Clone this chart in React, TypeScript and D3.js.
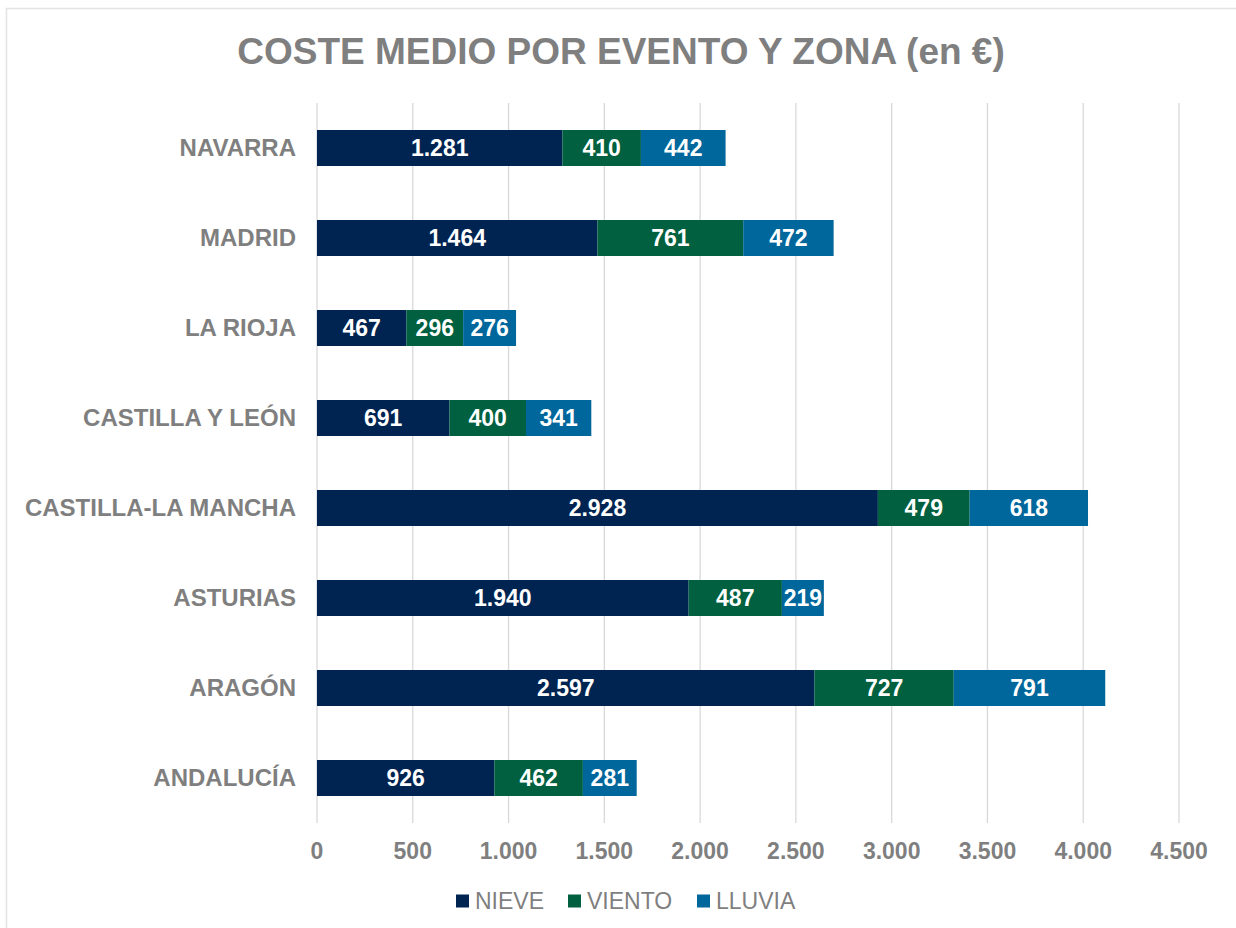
import { useEffect, useRef } from 'react';
import * as d3 from 'd3';

const zonas = ['NAVARRA', 'MADRID', 'LA RIOJA', 'CASTILLA Y LEÓN', 'CASTILLA-LA MANCHA', 'ASTURIAS', 'ARAGÓN', 'ANDALUCÍA'];
const nieve = [1281, 1464, 467, 691, 2928, 1940, 2597, 926];
const viento = [410, 761, 296, 400, 479, 487, 727, 462];
const lluvia = [442, 472, 276, 341, 618, 219, 791, 281];
const series = ['NIEVE', 'VIENTO', 'LLUVIA'];
const colores = ['#002452', '#00603F', '#00679C'];
const ticks = [0, 500, 1000, 1500, 2000, 2500, 3000, 3500, 4000, 4500];

const W = 1236;
const H = 928;
const FONT = '"Liberation Sans", Arial, sans-serif';
const GRAY = '#7f7f7f';

const fmt = (v: number) => d3.format(',')(v).replace(/,/g, '.');

const App = () => {
  const svgRef = useRef<SVGSVGElement>(null);

  useEffect(() => {
    if (!svgRef.current) return;
    const svg = d3.select(svgRef.current);
    svg.selectAll('*').remove();

    // chart frame
    svg.append('rect')
      .attr('x', 6.5).attr('y', 8.5)
      .attr('width', W).attr('height', H)
      .attr('fill', '#fff')
      .attr('stroke', '#e3e3e3')
      .attr('stroke-width', 1.5);

    const x = d3.scaleLinear().domain([0, 4500]).range([317, 1179]);
    const y = d3.scaleBand().domain(zonas).range([103, 823])
      .paddingInner(0.6)
      .paddingOuter(0.3);

    // Title
    svg.append('text')
      .attr('x', 621).attr('y', 64)
      .attr('text-anchor', 'middle')
      .style('font-family', FONT)
      .style('font-size', '37px')
      .style('font-weight', 'bold')
      .style('fill', GRAY)
      .text('COSTE MEDIO POR EVENTO Y ZONA (en €)');

    // Grid
    svg.append('g')
      .selectAll('line')
      .data(ticks)
      .join('line')
      .attr('x1', d => x(d)).attr('x2', d => x(d))
      .attr('y1', 103).attr('y2', 823)
      .attr('stroke', '#d9d9d9')
      .attr('stroke-width', 1.3);

    // X tick labels
    svg.append('g')
      .selectAll('text')
      .data(ticks)
      .join('text')
      .attr('x', d => x(d)).attr('y', 859)
      .attr('text-anchor', 'middle')
      .style('font-family', FONT)
      .style('font-size', '23px')
      .style('font-weight', 'bold')
      .style('fill', GRAY)
      .text(d => fmt(d));

    // Category labels
    svg.append('g')
      .selectAll('text')
      .data(zonas)
      .join('text')
      .attr('x', 296)
      .attr('y', d => (y(d) || 0) + y.bandwidth() / 2)
      .attr('dy', '0.35em')
      .attr('text-anchor', 'end')
      .style('font-family', FONT)
      .style('font-size', '24px')
      .style('font-weight', 'bold')
      .style('fill', GRAY)
      .text(d => d);

    // Stacked bars
    const rows = zonas.map((z, i) => ({ zona: z, NIEVE: nieve[i], VIENTO: viento[i], LLUVIA: lluvia[i] }));
    const stack = d3.stack<any>().keys(series)(rows);

    const layers = svg.append('g')
      .selectAll('g')
      .data(stack)
      .join('g')
      .attr('fill', (_d, i) => colores[i]);

    layers.selectAll('rect')
      .data(d => d)
      .join('rect')
      .attr('x', d => x(d[0]))
      .attr('y', d => y(d.data.zona) || 0)
      .attr('width', d => x(d[1]) - x(d[0]))
      .attr('height', y.bandwidth());

    layers.selectAll('text')
      .data(d => d)
      .join('text')
      .attr('x', d => (x(d[0]) + x(d[1])) / 2)
      .attr('y', d => (y(d.data.zona) || 0) + y.bandwidth() / 2)
      .attr('dy', '0.35em')
      .attr('text-anchor', 'middle')
      .style('font-family', FONT)
      .style('font-size', '23px')
      .style('font-weight', 'bold')
      .style('fill', '#fff')
      .text(d => fmt(d[1] - d[0]));

    // Legend
    const legendX = [456, 568, 697];
    const lg = svg.append('g')
      .selectAll('g')
      .data(series)
      .join('g')
      .attr('transform', (_d, i) => `translate(${legendX[i]},901)`);
    lg.append('rect')
      .attr('x', 0).attr('y', -6.5)
      .attr('width', 13).attr('height', 13)
      .attr('fill', (_d, i) => colores[i]);
    lg.append('text')
      .attr('x', 19).attr('y', 0)
      .attr('dy', '0.35em')
      .style('font-family', FONT)
      .style('font-size', '23px')
      .style('fill', GRAY)
      .text(d => d);
  }, []);

  return (
    <div style={{ position: 'absolute', left: 0, top: 0 }}>
      <svg ref={svgRef} width={W} height={H} style={{ display: 'block' }} />
    </div>
  );
};

export default App;
